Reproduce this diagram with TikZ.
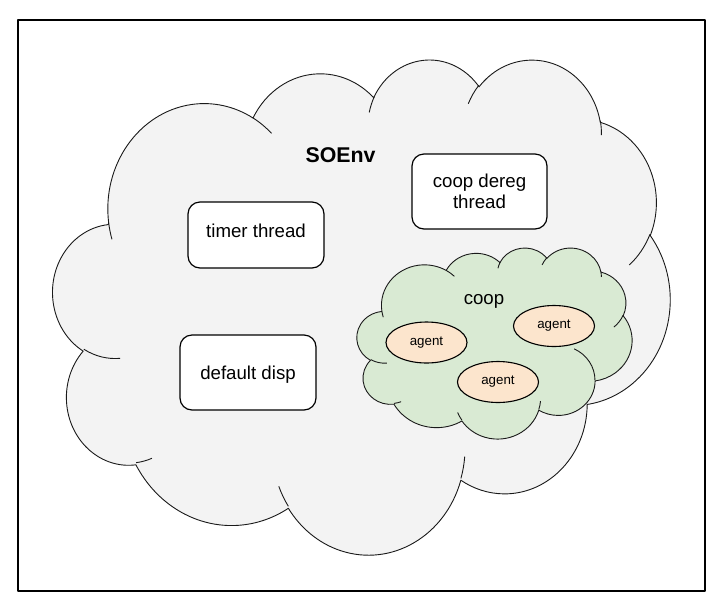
\documentclass[tikz,border=0pt]{standalone}
\usepackage{fontspec}
\setmainfont{Liberation Sans}
\usetikzlibrary{shapes.geometric}
\definecolor{envfill}{HTML}{F3F3F3}
\definecolor{coopfill}{HTML}{D9EAD3}
\definecolor{agentfill}{HTML}{FCE5CD}
\definecolor{cloudline}{HTML}{1A1A1A}

\tikzset{
  % one bulge of the cloud, angles as seen on screen
  puff/.style n args={4}{x radius=#1,y radius=#2,
    start angle={atan2(#1*sin(#3),#2*cos(#3))},
    delta angle={mod(atan2(#1*sin(#3+#4),#2*cos(#3+#4))-atan2(#1*sin(#3),#2*cos(#3))+720,360)}},
  pics/envcloud/.style={code={
    \path[pic actions] (39,143.7)
      arc[puff={67.53}{91.90}{-190.4875}{123.7805}]
      arc[puff={53.33}{72.67}{-144.1024}{89.9452}]
      arc[puff={43.65}{59.45}{-145.8079}{99.7230}]
      arc[puff={48.57}{65.95}{-130.9861}{117.2417}]
      arc[puff={53.33}{72.73}{-78.7089}{109.0269}]
      arc[puff={67.75}{92.20}{-46.2673}{130.2690}]
      arc[puff={57.85}{78.67}{0.6250}{114.0333}]
      arc[puff={67.52}{92.15}{22.4516}{115.1726}]
      arc[puff={77.20}{105.43}{66.2426}{75.7110}]
      arc[puff={43.60}{59.18}{-274.9421}{146.7356}]
      arc[puff={43.45}{59.45}{-246.8285}{152.5189}] -- cycle;
    \foreach \px/\py/\rx/\ry/\st/\sw in {46.93/261.77/43.45/59.45/86.7420/26.4295,
        69.28/348.99/43.60/59.18/73.6105/11.4475, 164.78/390.90/67.52/92.15/137.6242/14.0811,
        288.27/347.51/67.52/92.15/6.4533/15.9984, 341.29/229.54/57.85/78.67/-70.2924/70.9174,
        417.98/153.54/53.33/72.73/30.3180/27.7515, 383.24/54.26/48.57/65.95/-13.7443/14.8589,
        290.78/39.52/48.57/65.95/-149.1815/18.1954, 221.41/47.20/43.65/59.45/-163.4943/17.6864,
        140.00/51.92/67.53/91.90/-66.7070/12.3194, 41.27/157.89/67.53/91.90/157.6544/11.8582}
      \path[pic actions,fill=none] (\px,\py) arc[puff={\rx}{\ry}{\st}{\sw}];
  }},
  task/.style={draw,fill=white,rounded corners=12pt,line width=1.2pt,minimum width=136pt,
    align=center,font=\fontsize{18.67}{21.5}\selectfont},
  agent/.style={ellipse,draw,fill=agentfill,line width=1.1pt,minimum width=81pt,
    minimum height=41pt,inner sep=0pt,font=\fontsize{13.33}{16}\selectfont}
}

\begin{document}
\begin{tikzpicture}[x=1pt,y=-1pt,line join=round]
\useasboundingbox (0,0) rectangle (725,614);
\fill[white] (0,0) rectangle (725,614);
\draw[line width=1.3pt] (18,20) rectangle (705,591);

\pic[draw=cloudline,fill=envfill,line width=0.9pt,shift={(53,58.4)},xscale=1.4282,yscale=1.1458] {envcloud};
\node[font=\bfseries\fontsize{21.33}{25}\selectfont] (soenv) at (340.5,155) {SOEnv};
\node[task,minimum height=66pt,text depth=9pt] (timer) at (256,235) {timer thread};
\node[task,minimum width=135pt,minimum height=75pt] (dereg) at (479.5,191.5) {coop dereg\\thread};
\node[task,minimum height=75pt,text depth=0pt] (disp) at (248,372.5) {default disp};

\pic[draw=cloudline,fill=coopfill,line width=0.9pt,shift={(357,247.4)},xscale=0.6366,yscale=0.4421] {envcloud};
\node[font=\fontsize{18.67}{21.5}\selectfont] (coop) at (484,301) {coop};
\node[agent] (ag1) at (426.5,342.5) {agent};
\node[agent] (ag2) at (554,326) {agent};
\node[agent] (ag3) at (498,382) {agent};
\end{tikzpicture}
\end{document}
